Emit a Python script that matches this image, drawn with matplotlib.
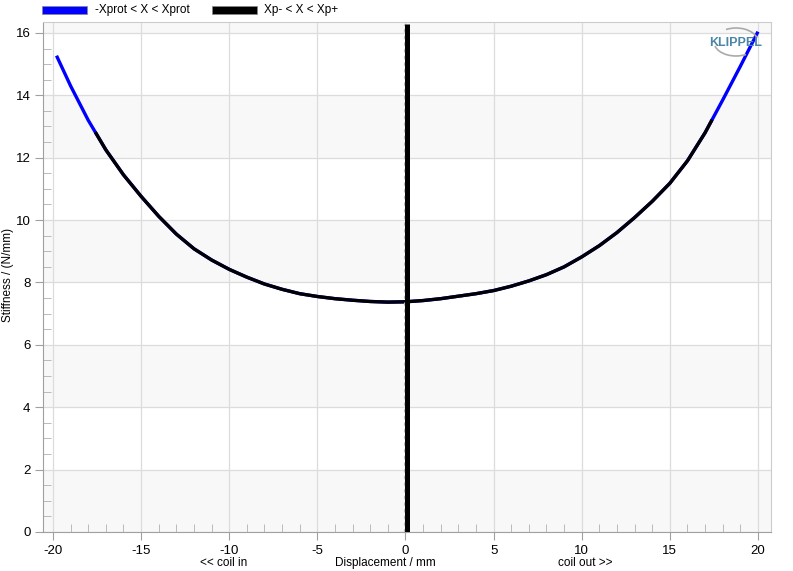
import matplotlib
matplotlib.use("Agg")
import matplotlib.pyplot as plt
from matplotlib.patches import Rectangle, Arc
from matplotlib.ticker import MultipleLocator
import numpy as np

plt.rcParams['font.family'] = ['Liberation Sans', 'DejaVu Sans']
plt.rcParams['axes.unicode_minus'] = False

# Data (displacement mm, stiffness N/mm)
x_prot = [-19.8, -19, -18, -17.6, -17, -16, -15, -14, -13, -12, -11, -10, -9, -8, -7, -6, -5,
          -4, -3, -2, -1, 0, 1, 2, 3, 4, 5, 6, 7, 8, 9, 10, 11, 12, 13, 14, 15, 16,
          17, 17.4, 18, 19, 20]
k_prot = [15.27, 14.30, 13.20, 12.82, 12.25, 11.45, 10.76, 10.12, 9.55, 9.08, 8.72, 8.42,
          8.17, 7.95, 7.78, 7.64, 7.55, 7.48, 7.43, 7.39, 7.37, 7.38, 7.42, 7.48, 7.56,
          7.64, 7.74, 7.88, 8.05, 8.25, 8.50, 8.82, 9.18, 9.60, 10.08, 10.60, 11.18,
          11.90, 12.80, 13.22, 13.85, 14.93, 16.04]
x_lo, x_hi = -17.6, 17.4
rest_pos = 0.0

legend_labels = ["-Xprot < X < Xprot", "Xp- < X < Xp+"]
series_colors = ["#0000ff", "#000000"]

W, H = 793, 571
fig = plt.figure(figsize=(W / 100, H / 100), dpi=100)
ax = fig.add_axes([43 / W, 1 - 532 / H, (771 - 43) / W, (532 - 22) / H])

xmin, xmax = -20.567, 20.74
ymin, ymax = 0, 16.35
ax.set_xlim(xmin, xmax)
ax.set_ylim(ymin, ymax)

# background bands
for b in np.arange(0, 18, 4):
    ax.axhspan(b, b + 2, color="#f8f8f8", zorder=0, lw=0)
ax.axhspan(16, ymax, color="#f8f8f8", zorder=0, lw=0)

ax.xaxis.set_major_locator(MultipleLocator(5))
ax.xaxis.set_minor_locator(MultipleLocator(1))
ax.yaxis.set_major_locator(MultipleLocator(2))
ax.yaxis.set_minor_locator(MultipleLocator(0.5))
ax.grid(True, which="major", color="#dcdcdc", lw=0.9, zorder=0.5)
ax.set_axisbelow(True)

ax.tick_params(which="major", direction="out", length=6, color="#a0a0a0",
               labelsize=9.5, pad=3)
ax.tick_params(which="minor", direction="in", length=6, color="#b0b0b0")
for s in ["left", "bottom"]:
    ax.spines[s].set_color("#a0a0a0")
for s in ["top", "right"]:
    ax.spines[s].set_color("#cccccc")

xp = np.array(x_prot)
kp = np.array(k_prot)
ax.plot(xp, kp, color=series_colors[0], lw=2.4, zorder=3, solid_capstyle="butt",
        solid_joinstyle="round")
m = (xp >= x_lo - 1e-9) & (xp <= x_hi + 1e-9)
ax.plot(xp[m], kp[m], color=series_colors[1], lw=2.4, zorder=4, solid_capstyle="butt",
        solid_joinstyle="round")

# vertical rest position marker
ax.plot([rest_pos + 0.08, rest_pos + 0.08], [0, 16.3], color="black", lw=3.6, zorder=5,
        solid_capstyle="butt")
ax.plot([rest_pos - 0.06, rest_pos - 0.06], [0, 16.3], color="#bbbbbb", lw=0.8,
        ls=(0, (3, 3)), zorder=6)

fig.text(8 / W, 1 - 275 / H, "Stiffness / (N/mm)", fontsize=8.5, rotation=90,
         ha="center", va="center")
fig.text(385 / W, 1 - 563 / H, "Displacement / mm", fontsize=8.5, ha="center", va="center")
fig.text(224 / W, 1 - 563 / H, "<< coil in", fontsize=8.5, ha="center", va="center")
fig.text(585 / W, 1 - 563 / H, "coil out >>", fontsize=8.5, ha="center", va="center")

# legend
fig.patches.append(Rectangle((42 / W, 1 - 14 / H), 45 / W, 8 / H, transform=fig.transFigure,
                             facecolor=series_colors[0], edgecolor="#888888", lw=0.5))
fig.text(95 / W, 1 - 10 / H, legend_labels[0], fontsize=8.5, va="center", ha="left")
fig.patches.append(Rectangle((212 / W, 1 - 14 / H), 45 / W, 8 / H, transform=fig.transFigure,
                             facecolor=series_colors[1], edgecolor="#888888", lw=0.5))
fig.text(264 / W, 1 - 10 / H, legend_labels[1], fontsize=8.5, va="center", ha="left")

# logo
fig.text(736 / W, 1 - 43 / H, "KLIPPEL", fontsize=9, fontweight="bold", color="#4a86a8",
         ha="center", va="center")
fig.patches.append(Arc((736 / W, 1 - 42 / H), 44 / W, 28 / H, theta1=15, theta2=120,
                       transform=fig.transFigure, color="#aaaaaa", lw=1.2))
fig.patches.append(Arc((736 / W, 1 - 42 / H), 44 / W, 28 / H, theta1=195, theta2=300,
                       transform=fig.transFigure, color="#aaaaaa", lw=1.2))

fig.savefig("out.png", dpi=100)
